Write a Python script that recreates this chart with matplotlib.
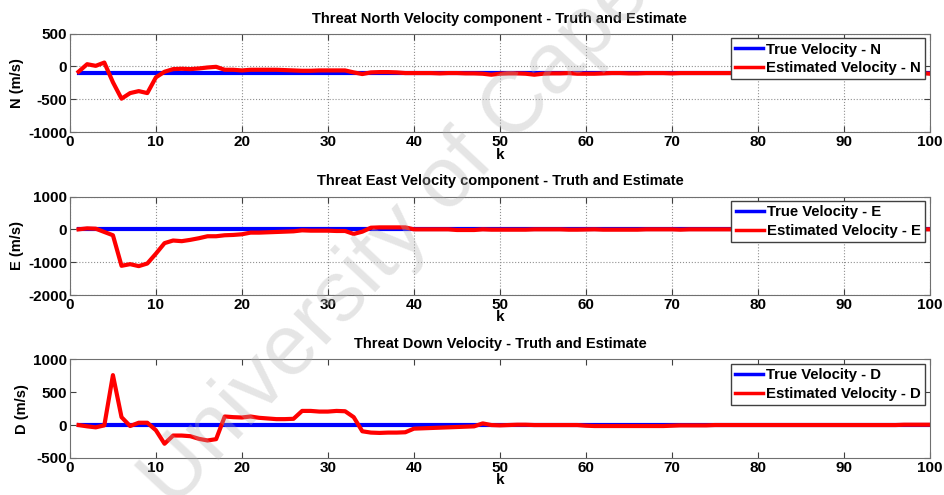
import numpy as np
import matplotlib.pyplot as plt

plt.rcParams['font.family'] = ['Liberation Sans', 'DejaVu Sans']
plt.rcParams['font.weight'] = 'bold'
plt.rcParams['axes.unicode_minus'] = False

# 采样步
k = list(range(1, 101))

# 真实速度 (m/s)
north_true = [-100] * 100
east_true = [0] * 100
down_true = [0] * 100

# 估计速度 (m/s)
north_est = [
    -80, 35, 10, 60, -240, -490, -405, -375, -405, -165,
    -80, -40, -35, -40, -30, -15, -5, -50, -50, -60,
    -50, -50, -50, -50, -55, -60, -65, -65, -60, -60,
    -60, -60, -90, -115, -90, -85, -85, -90, -100, -100,
    -100, -100, -105, -100, -100, -105, -105, -110, -125, -110,
    -105, -105, -110, -125, -110, -105, -105, -100, -110, -110,
    -110, -105, -100, -100, -105, -105, -100, -100, -100, -105,
    -100, -100, -100, -100, -100, -100, -100, -100, -100, -100,
    -100, -100, -100, -100, -100, -100, -100, -100, -100, -100,
    -100, -100, -100, -100, -100, -100, -100, -100, -100, -110,
]
east_est = [
    0, 30, 20, -80, -180, -1110, -1060, -1120, -1040, -740,
    -420, -340, -360, -320, -270, -210, -210, -180, -170, -150,
    -100, -100, -90, -80, -70, -60, -30, -40, -40, -40,
    -50, -50, -140, -70, 50, 60, 60, 60, 60, 0,
    0, 0, 0, 0, -20, -20, -20, 0, -10, -10,
    -10, -10, -10, 0, 0, 0, 0, -10, -10, -5,
    0, -10, -10, -10, -10, -10, 0, 0, 0, 0,
    -10, 0, 0, 0, 0, 0, 0, 0, 0, 0,
    0, 0, 0, 0, 0, 0, 0, 0, 0, 0,
    0, 0, 0, 0, 0, 0, 0, 0, 0, 0,
]
down_est = [
    0, -20, -35, -5, 760, 120, -15, 35, 35, -80,
    -285, -160, -160, -170, -210, -235, -215, 130, 120, 115,
    130, 110, 100, 90, 90, 95, 215, 215, 205, 205,
    215, 210, 120, -95, -115, -120, -115, -115, -110, -55,
    -50, -45, -40, -35, -30, -25, -20, 25, 0, -5,
    0, 5, 5, 0, 0, 0, 0, 0, 0, -10,
    -15, -15, -15, -15, -15, -15, -15, -15, -15, -10,
    -5, -5, -5, -5, 0, 0, 0, 0, 0, 0,
    0, 0, 0, 0, 0, 0, 0, 0, 0, 0,
    0, 0, 0, 0, 0, 0, 5, 5, 5, 5,
]

panels = [
    ("Threat North Velocity component - Truth and Estimate", "N (m/s)", "N",
     north_true, north_est, (-1000, 500), [-1000, -500, 0, 500], True),
    ("Threat East Velocity component - Truth and Estimate", "E (m/s)", "E",
     east_true, east_est, (-2000, 1000), [-2000, -1000, 0, 1000], True),
    ("Threat Down Velocity - Truth and Estimate", "D (m/s)", "D",
     down_true, down_est, (-500, 1000), [-500, 0, 500, 1000], False),
]

fig = plt.figure(figsize=(9.45, 4.95), dpi=100)
bottoms = [0.733, 0.404, 0.075]

for (title, ylab, tag, truth, est, ylim, yticks, grid), b in zip(panels, bottoms):
    ax = fig.add_axes([0.074, b, 0.910, 0.199])
    ax.plot(k, truth, color='#0000ff', lw=3, label='True Velocity - ' + tag)
    ax.plot(k, est, color='#ff0000', lw=3, label='Estimated Velocity - ' + tag)
    ax.set_xlim(0, 100)
    ax.set_ylim(*ylim)
    ax.set_xticks(range(0, 101, 10))
    ax.set_yticks(yticks)
    ax.tick_params(direction='in', top=True, right=True, length=4, pad=2,
                   labelsize=11, colors='#404040', labelcolor='black')
    for s in ax.spines.values():
        s.set_color('#707070')
    if grid:
        ax.grid(True, linestyle=':', color='#909090', lw=0.8)
    ax.set_title(title, fontsize=10.5, fontweight='bold', pad=8)
    ax.set_ylabel(ylab, fontsize=10.5, fontweight='bold', labelpad=3)
    ax.set_xlabel('k', fontsize=11, fontweight='bold', labelpad=-1)
    leg = ax.legend(loc='upper right', fontsize=10.7, fancybox=False,
                    edgecolor='#404040', framealpha=1, borderaxespad=0.3,
                    handlelength=1.9, borderpad=0.3, labelspacing=0.3,
                    handletextpad=0.2)
    for line in leg.get_lines():
        line.set_linewidth(2.5)

# 水印
fig.text(0.42, 0.52, 'University of Cape', fontsize=62, fontweight='normal',
         color='#b0b0b0', alpha=0.32, rotation=47, ha='center', va='center',
         zorder=10)

fig.savefig('out.png', dpi=100)
